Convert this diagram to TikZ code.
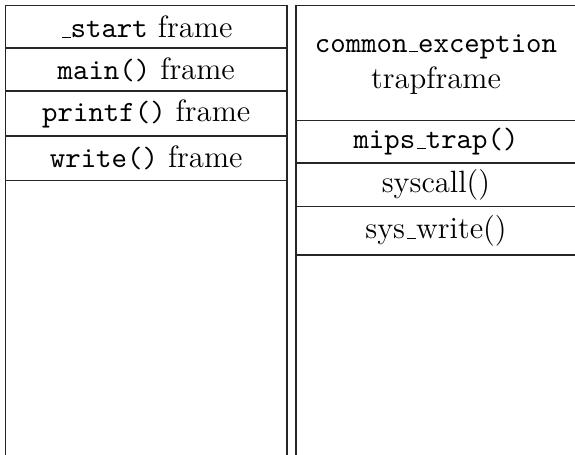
\documentclass[tikz,border=0pt]{standalone}
\newcommand{\usc}{\leavevmode\kern.06em\vbox{\hrule width.3em}}
\newcommand{\ttt}[1]{{\fontsize{10.5}{12}\selectfont\ttfamily #1}}
\begin{document}
\begin{tikzpicture}[x=0.35714pt,y=-0.35714pt,
  frameline/.style={line width=0.4pt,draw=black!85},
  lbl/.style={font=\fontsize{11}{12}\selectfont,align=center,inner sep=0pt}]
\clip (0,0) rectangle (575,455);
% left stack
\draw[frameline] (5.5,5.5) rectangle (287,48);
\draw[frameline] (5.5,48) rectangle (287,91);
\draw[frameline] (5.5,91) rectangle (287,136);
\draw[frameline] (5.5,136) rectangle (287,180.5);
\draw[frameline] (5.5,180.5) -- (5.5,470);
\draw[frameline] (287,180.5) -- (287,470);
\node[lbl] (start) at (146.25,27) {\ttt{\usc start} frame};
\node[lbl] (main) at (146.25,69.5) {\ttt{main()} frame};
\node[lbl] (printf) at (146.25,113.5) {\ttt{printf()} frame};
\node[lbl] (write) at (146.25,158) {\ttt{write()} frame};
% right stack
\draw[frameline] (296,5.5) rectangle (576.5,120.5);
\draw[frameline] (296,120.5) rectangle (576.5,163);
\draw[frameline] (296,163) rectangle (576.5,206.5);
\draw[frameline] (296,206.5) rectangle (576.5,255);
\draw[frameline] (296,255) -- (296,470);
\draw[frameline] (576.5,255) -- (576.5,470);
\node[lbl] (trap) at (436,64.5) {\ttt{common\usc exception}\\[1pt]trapframe};
\node[lbl] (mips) at (436,142) {\ttt{mips\usc trap()}};
\node[lbl] (syscall) at (436,185) {syscall()};
\node[lbl] (syswrite) at (436,231) {sys\usc write()};
\end{tikzpicture}
\end{document}
